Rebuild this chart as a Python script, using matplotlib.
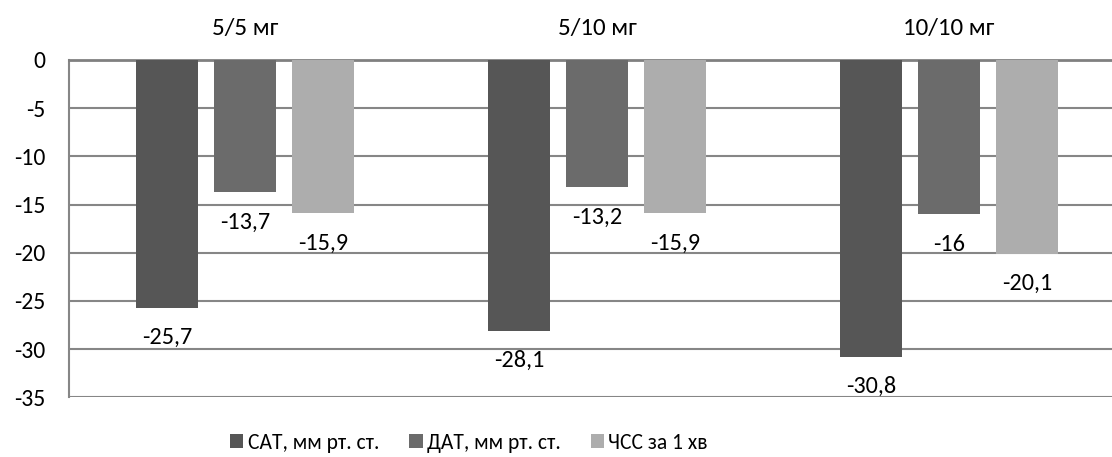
import matplotlib
matplotlib.use('Agg')
import matplotlib.pyplot as plt
from matplotlib import font_manager
from matplotlib.patches import Patch
import numpy as np

groups = ['5/5 мг', '5/10 мг', '10/10 мг']
series = ['САТ, мм рт. ст.', 'ДАТ, мм рт. ст.', 'ЧСС за 1 хв']
sat = [-25.7, -28.1, -30.8]
dat = [-13.7, -13.2, -16.0]
chss = [-15.9, -15.9, -20.1]
labels = [['-25,7', '-28,1', '-30,8'],
          ['-13,7', '-13,2', '-16'],
          ['-15,9', '-15,9', '-20,1']]
colors = ['#565656', '#6b6b6b', '#adadad']

names = {f.name for f in font_manager.fontManager.ttflist}
fam = 'Carlito' if 'Carlito' in names else 'Open Sans'
plt.rcParams['font.family'] = [fam, 'DejaVu Sans']

W, H = 1112, 457
fig = plt.figure(figsize=(W / 100, H / 100), dpi=100)
ax = fig.add_axes([69 / W, 1 - 397.3 / H, 1056 / W, (397.3 - 60) / H])

x = np.arange(len(groups))
bw = 0.174
step = 0.2216
for i, vals in enumerate([sat, dat, chss]):
    pos = x + (i - 1) * step
    ax.bar(pos, vals, width=bw, color=colors[i], zorder=3)
    for px, v, t in zip(pos, vals, labels[i]):
        ax.annotate(t, (px, v), xytext=(0, -21.5), textcoords='offset points',
                    ha='center', va='center', fontsize=17.5)

ax.set_xlim(-0.5, 2.5)
ax.set_ylim(-35, 0)
ax.set_yticks(range(-35, 1, 5))
ax.set_yticklabels([str(v) for v in range(-35, 1, 5)])
ax.yaxis.grid(True, color='#868686', linewidth=1.5, zorder=0)
ax.xaxis.tick_top()
ax.set_xticks(x)
ax.set_xticklabels(groups)
ax.tick_params(axis='x', length=0, pad=15, labelsize=18)
ax.tick_params(axis='y', length=0, pad=17, labelsize=17)
for s in ['right', 'bottom']:
    ax.spines[s].set_visible(False)
ax.spines['left'].set_color('#868686')
ax.spines['left'].set_linewidth(1.5)
ax.spines['top'].set_color('#808080')
ax.spines['top'].set_linewidth(2)

handles = [Patch(facecolor=c, edgecolor='none') for c in colors]
fig.legend(handles, series, loc='center', bbox_to_anchor=(469 / W, 1 - 443 / H),
           ncol=3, frameon=False, fontsize=15.5, handlelength=0.62, handleheight=0.62,
           handletextpad=0.2, columnspacing=1.4, borderpad=0)

fig.savefig('out.png', dpi=100)
